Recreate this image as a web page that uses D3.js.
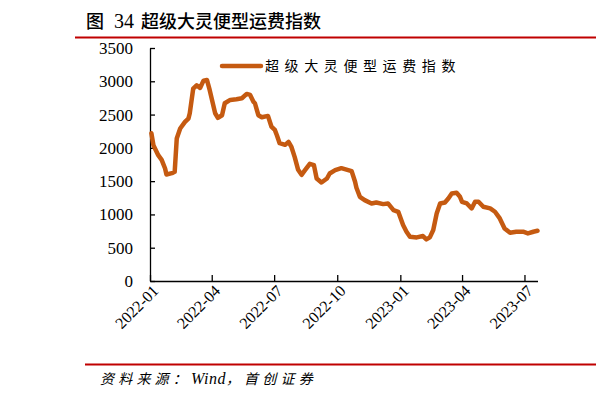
<!DOCTYPE html>
<html>
<head>
<meta charset="utf-8">
<script src="https://cdn.jsdelivr.net/npm/d3@7"></script>
<style>
  body { margin: 0; background: #fff; }
  svg { display: block; }
</style>
</head>
<body>
<svg width="596" height="399"></svg>
<script>
// 超级大灵便型运费指数
var dates = [
  "2022-01-03", "2022-01-06", "2022-01-13", "2022-01-18", "2022-01-23", "2022-01-25",
  "2022-02-02", "2022-02-06", "2022-02-09", "2022-02-14", "2022-02-21", "2022-02-26",
  "2022-02-28", "2022-03-05", "2022-03-10", "2022-03-15", "2022-03-20", "2022-03-25",
  "2022-03-29", "2022-04-06", "2022-04-10", "2022-04-16", "2022-04-20", "2022-04-28",
  "2022-05-07", "2022-05-15", "2022-05-22", "2022-05-27", "2022-06-01", "2022-06-03",
  "2022-06-08", "2022-06-13", "2022-06-22", "2022-06-27", "2022-07-02", "2022-07-05",
  "2022-07-09", "2022-07-17", "2022-07-22", "2022-07-26", "2022-07-31", "2022-08-05",
  "2022-08-10", "2022-08-15", "2022-08-22", "2022-08-28", "2022-09-01", "2022-09-08",
  "2022-09-16", "2022-09-20", "2022-09-28", "2022-10-07", "2022-10-17", "2022-10-22",
  "2022-10-27", "2022-10-29", "2022-11-03", "2022-11-10", "2022-11-20", "2022-11-27",
  "2022-12-07", "2022-12-14", "2022-12-22", "2022-12-29", "2023-01-05", "2023-01-10",
  "2023-01-15", "2023-01-25", "2023-02-03", "2023-02-08", "2023-02-13", "2023-02-18",
  "2023-02-23", "2023-02-28", "2023-03-07", "2023-03-12", "2023-03-17", "2023-03-24",
  "2023-03-29", "2023-04-01", "2023-04-08", "2023-04-15", "2023-04-20", "2023-04-25",
  "2023-05-02", "2023-05-12", "2023-05-19", "2023-05-26", "2023-06-02", "2023-06-10",
  "2023-06-19", "2023-06-29", "2023-07-06", "2023-07-14", "2023-07-20"
];
var values = [
  2220, 2040, 1890, 1820, 1690, 1600,
  1620, 1640, 2140, 2290, 2390, 2440,
  2520, 2890, 2940, 2900, 3010, 3020,
  2870, 2520, 2450, 2490, 2670, 2720,
  2730, 2745, 2810, 2795, 2690, 2670,
  2490, 2460, 2480, 2320, 2270, 2190,
  2070, 2045, 2090, 2020, 1860, 1670,
  1595, 1665, 1760, 1740, 1540, 1480,
  1540, 1615, 1665, 1695, 1665, 1650,
  1490, 1400, 1265, 1215, 1165, 1180,
  1155, 1165, 1065, 1040, 840, 740,
  665, 655, 675, 625, 655, 765,
  1015, 1165, 1180, 1240, 1315, 1325,
  1265, 1190, 1165, 1090, 1190, 1190,
  1115, 1090, 1040, 940, 790, 725,
  740, 740, 715, 740, 755
];
var yTicks = [0, 500, 1000, 1500, 2000, 2500, 3000, 3500];
var xTicks = ["2022-01-01", "2022-04-01", "2022-07-01", "2022-10-01", "2023-01-01", "2023-04-01", "2023-07-01"];
var seriesName = "超级大灵便型运费指数";

var parse = d3.timeParse("%Y-%m-%d");
var fmt = d3.timeFormat("%Y-%m");
var data = dates.map(function (d, i) { return { date: parse(d), value: values[i] }; });

var svg = d3.select("svg");
var serif = "'Liberation Serif', 'Times New Roman', serif";
var cjk = "'Noto Sans CJK SC', sans-serif";
var red = "#c00000";
var orange = "#c55a11";

var x = d3.scaleTime()
  .domain([parse("2022-01-01"), parse("2023-07-20")])
  .range([150, 537.5]);
var y = d3.scaleLinear().domain([0, 3500]).range([281, 48]);

// title + red rules
var t = svg.append("text")
  .attr("y", 28)
  .style("font-family", cjk).style("font-size", "18px").style("font-weight", 500);
t.append("tspan").attr("x", 86).text("图");
t.append("tspan").attr("x", 114).style("font-family", serif).style("font-size", "20px").style("font-weight", 400).text("34");
t.append("tspan").attr("x", 141).text("超级大灵便型运费指数");

svg.append("line").attr("x1", 75).attr("x2", 596).attr("y1", 37.5).attr("y2", 37.5)
  .attr("stroke", red).attr("stroke-width", 2);
svg.append("line").attr("x1", 85).attr("x2", 596).attr("y1", 364.5).attr("y2", 364.5)
  .attr("stroke", red).attr("stroke-width", 2);

// y axis
var yAxis = svg.append("g")
  .attr("transform", "translate(150,0)")
  .call(d3.axisLeft(y).tickValues(yTicks).tickFormat(d3.format("d"))
    .tickSizeInner(-5).tickSizeOuter(0).tickPadding(17));
yAxis.attr("font-family", null);
yAxis.selectAll("text").style("font-family", serif).style("font-size", "17px").attr("fill", "#000");

// x axis
var xAxis = svg.append("g")
  .attr("transform", "translate(0,281)")
  .call(d3.axisBottom(x).tickValues(xTicks.map(parse)).tickFormat(fmt).tickSizeInner(-6).tickSizeOuter(0));
xAxis.attr("font-family", null);
xAxis.selectAll("text")
  .style("font-family", serif).style("font-size", "16px").attr("fill", "#000")
  .attr("text-anchor", "end")
  .attr("transform", "translate(5,7) rotate(-45)")
  .attr("dy", "0.35em").attr("y", 0).attr("x", 0);

svg.selectAll(".domain, .tick line").attr("stroke", "#000").attr("stroke-width", 1.3);

// series
svg.append("path")
  .datum(data)
  .attr("fill", "none")
  .attr("stroke", orange)
  .attr("stroke-width", 4.5)
  .attr("stroke-linejoin", "round")
  .attr("stroke-linecap", "round")
  .attr("d", d3.line().x(function (d) { return x(d.date); }).y(function (d) { return y(d.value); }));

// legend
svg.append("line").attr("x1", 222).attr("x2", 261).attr("y1", 66).attr("y2", 66)
  .attr("stroke", orange).attr("stroke-width", 4.5).attr("stroke-linecap", "round");
svg.append("text")
  .attr("x", 265).attr("y", 71)
  .style("font-family", cjk).style("font-size", "14px").style("letter-spacing", "5.6px")
  .text(seriesName);

// source
var s = svg.append("text")
  .attr("x", 100).attr("y", 384)
  .style("font-family", cjk).style("font-size", "14px").style("font-style", "italic")
  .style("letter-spacing", "4.2px");
s.append("tspan").text("资料来源：");
s.append("tspan").style("font-family", serif).style("font-size", "16px").style("letter-spacing", "0.5px").text("Wind");
s.append("tspan").text("，首创证券");
</script>
</body>
</html>
